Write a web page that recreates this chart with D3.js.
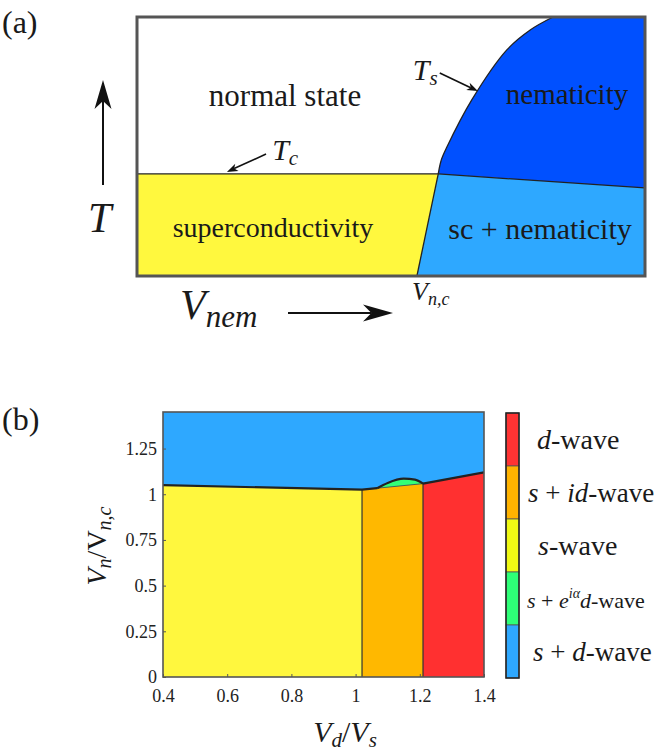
<!DOCTYPE html>
<html>
<head>
<meta charset="utf-8">
<script src="https://cdn.jsdelivr.net/npm/d3@7"></script>
</head>
<body>
<div id="chart"></div>
<script>
// ---- panel (a): schematic phase diagram, normalised V_nem (0..1) and T (0..1)
const tcLevel = 0.394;
const tsCurve = [[0.593, 0.394], [0.599, 0.448], [0.610, 0.498], [0.659, 0.680], [0.728, 0.873], [0.774, 0.950], [0.819, 1.0]];
const scEdge = [[0.551, 0], [0.593, 0.394]];
const nemEdge = [[0.593, 0.394], [1, 0.340]];

// ---- panel (b): V_n/V_nc versus V_d/V_s
const xTicks = [0.4, 0.6, 0.8, 1, 1.2, 1.4];
const yTicks = [0, 0.25, 0.5, 0.75, 1, 1.25];
const phaseCuts = [1.02, 1.21];
const sTop = [[0.4, 1.05], [1.02, 1.025]];
const sidTop = [[1.02, 1.025], [1.21, 1.058]];
const dTop = [[1.21, 1.058], [1.4, 1.12]];
const mixTop = [[1.067, 1.033], [1.10, 1.062], [1.15, 1.085], [1.185, 1.080], [1.21, 1.058]];

const legendNames = ["d-wave", "s+id-wave", "s-wave", "s+e^{ia}d-wave", "s+d-wave"];
const legendColors = ["#ff3333", "#ffb300", "#f0fa14", "#2eff77", "#2ea8ff"];

const W = 654, H = 752;
const FONT = '"Liberation Serif", "Tinos", "Times New Roman", serif';
d3.select("body").style("margin", "0px");
const svg = d3.select("#chart").append("svg")
    .attr("width", W)
    .attr("height", H)
    .style("display", "block");

// helper: text made of plain / italic / sup / sub pieces
function richText(x, y, size, parts, anchor) {
    const t = svg.append("text")
        .style("font-family", FONT)
        .attr("font-size", size)
        .attr("x", x).attr("y", y)
        .attr("fill", "#1a1a1a")
        .attr("text-anchor", anchor || "start");
    if (parts.length === 1 && !parts[0].i) {
        t.text(parts[0].t);
        return t;
    }
    parts.forEach(p => {
        const s = t.append("tspan").text(p.t)
            .style("font-family", FONT)
            .style("font-style", p.i ? "italic" : "normal")
            .attr("font-size", p.sz || size);
        if (p.dy) s.attr("dy", p.dy);
    });
    return t;
}

// helper: arrow with filled, notched head
function arrow(g, x1, y1, x2, y2, len, wid, sw) {
    const a = Math.atan2(y2 - y1, x2 - x1);
    const ca = Math.cos(a), sa = Math.sin(a);
    const bx = x2 - len * ca, by = y2 - len * sa;
    const nx = x2 - len * 0.72 * ca, ny = y2 - len * 0.72 * sa;
    g.append("line")
        .attr("x1", x1).attr("y1", y1).attr("x2", nx).attr("y2", ny)
        .attr("stroke", "#111").attr("stroke-width", sw);
    g.append("path")
        .attr("d", `M${x2},${y2}L${bx - wid / 2 * sa},${by + wid / 2 * ca}L${nx},${ny}L${bx + wid / 2 * sa},${by - wid / 2 * ca}Z`)
        .attr("fill", "#111");
}

// ================= panel (a) =================
const xa = d3.scaleLinear().domain([0, 1]).range([137, 645]);
const ya = d3.scaleLinear().domain([0, 1]).range([276, 17]);
const ga = svg.append("g");

const tsLine = d3.line().x(d => xa(d[0])).y(d => ya(d[1])).curve(d3.curveCatmullRom.alpha(0.5));
const poly = pts => "M" + pts.map(d => `${xa(d[0])},${ya(d[1])}`).join("L") + "Z";

// yellow superconducting region
ga.append("path")
    .attr("d", poly([[0, 0], [0, tcLevel], scEdge[1], scEdge[0]]))
    .attr("fill", "#fff83e");
// sc + nematicity
ga.append("path")
    .attr("d", poly([nemEdge[0], nemEdge[1], [1, 0], scEdge[0]]))
    .attr("fill", "#2ea8ff");
// nematicity
ga.append("path")
    .attr("d", tsLine(tsCurve) + `L${xa(1)},${ya(1)}L${xa(1)},${ya(nemEdge[1][1])}Z`)
    .attr("fill", "#0050ff");

// phase boundaries
const edgeLine = d3.line().x(d => xa(d[0])).y(d => ya(d[1]));
[[[0, tcLevel], [tsCurve[0][0], tcLevel]], scEdge, nemEdge].forEach(seg => {
    ga.append("path").attr("d", edgeLine(seg))
        .attr("fill", "none").attr("stroke", "#222").attr("stroke-width", 1.3);
});
ga.append("path").attr("d", tsLine(tsCurve))
    .attr("fill", "none").attr("stroke", "#222").attr("stroke-width", 1.3);

// frame
ga.append("rect")
    .attr("x", xa(0)).attr("y", ya(1))
    .attr("width", xa(1) - xa(0)).attr("height", ya(0) - ya(1))
    .attr("fill", "none").attr("stroke", "#555").attr("stroke-width", 3);

// region labels
richText(285, 106, 31, [{t: "normal state"}], "middle");
richText(567, 104, 29, [{t: "nematicity"}], "middle");
richText(273, 237, 28, [{t: "superconductivity"}], "middle");
richText(540, 239, 30, [{t: "sc + nematicity"}], "middle");

// T_s and T_c annotations
richText(xa(0.543), ya(0.757), 30, [{t: "T", i: 1}, {t: "s", i: 1, sz: 21, dy: 5}]);
arrow(ga, xa(0.596), ya(0.784), xa(0.671), ya(0.714), 11, 8, 1.6);
richText(xa(0.266), ya(0.448), 30, [{t: "T", i: 1}, {t: "c", i: 1, sz: 21, dy: 5}]);
arrow(ga, xa(0.254), ya(0.471), xa(0.177), ya(0.402), 11, 8, 1.6);

// axis arrows and labels
arrow(ga, 103, 185, 103, 80, 29, 17, 2);
richText(88, 232, 42, [{t: "T", i: 1}]);
arrow(ga, 288, 313, 393, 313, 30, 17, 2);
richText(180, 319, 42, [{t: "V", i: 1}, {t: "nem", i: 1, sz: 31, dy: 8}]);
richText(412, 300, 26, [{t: "V", i: 1}, {t: "n,c", i: 1, sz: 18, dy: 5}]);

richText(2, 33, 32, [{t: "(a)"}]);

// ================= panel (b) =================
const xb = d3.scaleLinear().domain([0.4, 1.4]).range([163, 484]);
const yb = d3.scaleLinear().domain([0, 1.45]).range([677, 412]);
const gb = svg.append("g");
const lb = d3.line().x(d => xb(d[0])).y(d => yb(d[1]));
const lbCurve = d3.line().x(d => xb(d[0])).y(d => yb(d[1])).curve(d3.curveMonotoneX);
const polyB = pts => "M" + pts.map(d => `${xb(d[0])},${yb(d[1])}`).join("L") + "Z";

// s + d-wave fills the background
gb.append("rect")
    .attr("x", xb(0.4)).attr("y", yb(1.45))
    .attr("width", xb(1.4) - xb(0.4)).attr("height", yb(0) - yb(1.45))
    .attr("fill", "#2ea8ff");
// s-wave
gb.append("path").attr("d", polyB([[0.4, 0], sTop[0], sTop[1], [phaseCuts[0], 0]]))
    .attr("fill", "#fff73e");
// s + id-wave
gb.append("path").attr("d", polyB([[phaseCuts[0], 0], sidTop[0], sidTop[1], [phaseCuts[1], 0]]))
    .attr("fill", "#ffb800");
// d-wave
gb.append("path").attr("d", polyB([[phaseCuts[1], 0], dTop[0], dTop[1], [1.4, 0]]))
    .attr("fill", "#ff3030");
// s + e^{ia} d-wave pocket
gb.append("path").attr("d", lbCurve(mixTop) + "Z")
    .attr("fill", "#33ff77");

// thin phase edges
phaseCuts.forEach((c, i) => {
    const top = i === 0 ? sTop[1][1] : sidTop[1][1];
    gb.append("path").attr("d", lb([[c, 0], [c, top]]))
        .attr("stroke", "#333").attr("stroke-width", 1.2).attr("fill", "none");
});
gb.append("path").attr("d", lb([mixTop[0], mixTop[mixTop.length - 1]]))
    .attr("stroke", "#444").attr("stroke-width", 0.8).attr("fill", "none");

// thick upper boundary
gb.append("path").attr("d", lb(sTop.concat([[mixTop[0][0], mixTop[0][1]]])))
    .attr("stroke", "#222").attr("stroke-width", 2.2).attr("fill", "none");
gb.append("path").attr("d", lbCurve(mixTop))
    .attr("stroke", "#222").attr("stroke-width", 2.2).attr("fill", "none");
gb.append("path").attr("d", lb(dTop))
    .attr("stroke", "#222").attr("stroke-width", 2.2).attr("fill", "none");

// frame
gb.append("rect")
    .attr("x", xb(0.4)).attr("y", yb(1.45))
    .attr("width", xb(1.4) - xb(0.4)).attr("height", yb(0) - yb(1.45))
    .attr("fill", "none").attr("stroke", "#555").attr("stroke-width", 1.6);

// axes
const xAxis = d3.axisBottom(xb).tickValues(xTicks).tickSize(-3).tickPadding(12)
    .tickFormat(d => d3.format("")(d));
const yAxis = d3.axisLeft(yb).tickValues(yTicks).tickSize(-3).tickPadding(6)
    .tickFormat(d => d3.format("")(d));
gb.append("g").attr("transform", `translate(0,${yb(0)})`).call(xAxis)
    .attr("font-family", null)
    .call(g => g.select(".domain").remove());
gb.append("g").attr("transform", `translate(${xb(0.4)},0)`).call(yAxis)
    .attr("font-family", null)
    .call(g => g.select(".domain").remove());
gb.selectAll(".tick line").attr("stroke", "#555");
gb.selectAll(".tick text")
    .style("font-family", FONT)
    .attr("font-size", 18)
    .attr("fill", "#222");

// axis titles
richText(345, 742, 30, [{t: "V", i: 1}, {t: "d", i: 1, sz: 21, dy: 5}, {t: "/", dy: -5}, {t: "V", i: 1}, {t: "s", i: 1, sz: 21, dy: 5}], "middle");
const yl = richText(0, 0, 28, [{t: "V", i: 1}, {t: "n", i: 1, sz: 20, dy: 5}, {t: "/V", dy: -5}, {t: "n,c", i: 1, sz: 20, dy: 5}], "middle");
yl.attr("transform", "translate(106,546) rotate(-90)");

richText(2, 430, 32, [{t: "(b)"}]);

// ---- colour bar legend
const yLeg = d3.scaleBand().domain(legendNames).range([413, 678]);
const gl = svg.append("g");
gl.selectAll("rect.seg").data(legendNames).enter().append("rect")
    .attr("class", "seg")
    .attr("x", 506).attr("width", 13)
    .attr("y", d => yLeg(d)).attr("height", yLeg.bandwidth())
    .attr("fill", (d, i) => legendColors[i])
    .attr("stroke", "#555").attr("stroke-width", 0.8);
gl.append("rect")
    .attr("x", 506).attr("y", 413).attr("width", 13).attr("height", 265)
    .attr("fill", "none").attr("stroke", "#222").attr("stroke-width", 1.5);

const legendParts = {
    "d-wave": [{t: "d", i: 1}, {t: "-wave"}],
    "s+id-wave": [{t: "s", i: 1}, {t: " + "}, {t: "id", i: 1}, {t: "-wave"}],
    "s-wave": [{t: "s", i: 1}, {t: "-wave"}],
    "s+e^{ia}d-wave": [{t: "s", i: 1}, {t: " + "}, {t: "e", i: 1}, {t: "iα", i: 1, sz: 14, dy: -10}, {t: "d", i: 1, dy: 10}, {t: "-wave"}],
    "s+d-wave": [{t: "s", i: 1}, {t: " + "}, {t: "d", i: 1}, {t: "-wave"}]
};
const legendX = {"d-wave": 537, "s+id-wave": 528, "s-wave": 538, "s+e^{ia}d-wave": 527, "s+d-wave": 533};
const legendSize = {"d-wave": 28, "s+id-wave": 27, "s-wave": 28, "s+e^{ia}d-wave": 22, "s+d-wave": 27};
legendNames.forEach(n => {
    richText(legendX[n], yLeg(n) + yLeg.bandwidth() / 2 + 9, legendSize[n], legendParts[n]);
});
</script>
</body>
</html>
